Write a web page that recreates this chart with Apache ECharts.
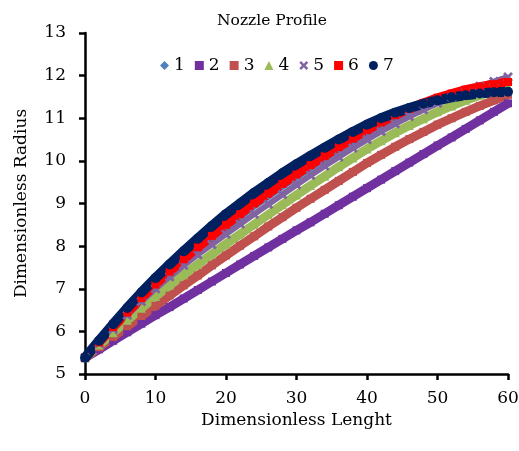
<!DOCTYPE html>
<html><head><meta charset="utf-8">
<script src="https://cdn.jsdelivr.net/npm/echarts@6/dist/echarts.min.js"></script>
<style>html,body{margin:0;padding:0;background:#fff}#c{width:519px;height:451px}</style>
</head><body><div id="c"></div>
<script>
var xValues = [0,2,4,6,8,10,12,14,16,18,20,22,24,26,28,30,32,34,36,38,40,42,44,46,48,50,52,54,56,58,60];
var seriesNames = ['1','2','3','4','5','6','7'];
var s1 = [5.38,5.73,6.08,6.42,6.75,7.07,7.37,7.66,7.94,8.21,8.47,8.72,8.97,9.20,9.43,9.65,9.87,10.08,10.29,10.49,10.69,10.87,11.04,11.19,11.33,11.45,11.55,11.64,11.71,11.77,11.82];
var s2 = [5.38,5.58,5.78,5.98,6.18,6.38,6.57,6.77,6.97,7.17,7.37,7.57,7.77,7.97,8.17,8.37,8.56,8.76,8.96,9.16,9.36,9.56,9.76,9.96,10.16,10.36,10.55,10.75,10.95,11.15,11.35];
var s3 = [5.38,5.63,5.87,6.12,6.36,6.60,6.84,7.08,7.31,7.55,7.78,8.01,8.23,8.46,8.68,8.90,9.11,9.32,9.53,9.74,9.95,10.14,10.33,10.51,10.68,10.85,11.00,11.15,11.29,11.42,11.55];
var s4 = [5.38,5.68,5.97,6.26,6.54,6.82,7.08,7.33,7.57,7.81,8.05,8.28,8.51,8.74,8.97,9.20,9.42,9.64,9.86,10.07,10.28,10.47,10.66,10.83,10.99,11.15,11.29,11.42,11.54,11.65,11.75];
var s5 = [5.38,5.72,6.05,6.38,6.70,7.00,7.28,7.55,7.80,8.04,8.28,8.52,8.75,8.98,9.21,9.44,9.66,9.88,10.09,10.30,10.50,10.69,10.87,11.04,11.20,11.35,11.49,11.62,11.75,11.86,11.97];
var s6 = [5.38,5.74,6.10,6.44,6.78,7.10,7.40,7.69,7.97,8.24,8.50,8.75,9.00,9.23,9.46,9.68,9.90,10.11,10.32,10.52,10.72,10.90,11.07,11.22,11.36,11.48,11.58,11.67,11.74,11.80,11.85];
var s7 = [5.38,5.78,6.17,6.55,6.91,7.25,7.57,7.88,8.18,8.47,8.75,9.00,9.25,9.48,9.71,9.92,10.12,10.31,10.50,10.68,10.85,11.00,11.13,11.24,11.34,11.42,11.49,11.54,11.58,11.61,11.62];
var yTicks = [5,6,7,8,9,10,11,12,13];
var xTicks = [0,10,20,30,40,50,60];

var allData = [s1,s2,s3,s4,s5,s6,s7];
var colors = ['#4F81BD','#7030A0','#C0504D','#9BBB59','#8064A2','#FF0000','#002060'];
var crossPath = 'path://M0,2L2,0L5,3L8,0L10,2L7,5L10,8L8,10L5,7L2,10L0,8L3,5Z';
var symbols = ['diamond','rect','rect','triangle',crossPath,'rect','circle'];
var symSizes = [9,8,8,9,10,8,10];
var lineWidths = [9,9,9,9,6,9,10];
var font = '"DejaVu Serif", "Liberation Serif", serif';

function pairs(arr){ return xValues.map(function(x,i){ return [x, arr[i]]; }); }

var series = seriesNames.map(function(n,i){
  return {
    name:n, type:'line', data:pairs(allData[i]),
    symbol:symbols[i], symbolSize:symSizes[i], showSymbol:true,
    itemStyle:{color:colors[i]},
    lineStyle:{color:colors[i], width:lineWidths[i]},
    smooth:false, animation:false
  };
});

var chart = echarts.init(document.getElementById('c'), null, {renderer:'canvas'});
chart.setOption({
  animation:false,
  title:{text:'Nozzle Profile', left:212, top:8, textStyle:{fontFamily:font, fontSize:15.5, fontWeight:'normal', color:'#000'}},
  legend:{
    left:155, top:52, itemWidth:9, itemHeight:9, itemGap:10,
    textStyle:{fontFamily:font, fontSize:17, color:'#000'},
    data:seriesNames.map(function(n,i){ return {name:n, icon:symbols[i]}; })
  },
  grid:{left:85, right:11, top:33, bottom:77, containLabel:false, outerBoundsMode:'none'},
  xAxis:{
    type:'value', min:0, max:60, interval:10,
    name:'Dimensionless Lenght', nameLocation:'middle', nameGap:37,
    nameTextStyle:{fontFamily:font, fontSize:17, color:'#000'},
    axisLine:{show:true, onZero:false, lineStyle:{color:'#000', width:2.5}},
    axisTick:{show:true, length:6, lineStyle:{color:'#000', width:2.5}},
    axisLabel:{fontFamily:font, fontSize:17, color:'#000', margin:16,
      formatter:function(v){ return xTicks.indexOf(v)>=0 ? String(v) : ''; }},
    splitLine:{show:false}
  },
  yAxis:{
    type:'value', min:5, max:13, interval:1,
    name:'Dimensionless Radius', nameLocation:'middle', nameGap:55,
    nameTextStyle:{fontFamily:font, fontSize:17, color:'#000'},
    axisLine:{show:true, onZero:false, lineStyle:{color:'#000', width:2.5}},
    axisTick:{show:true, length:6, lineStyle:{color:'#000', width:2.5}},
    axisLabel:{fontFamily:font, fontSize:17, color:'#000', margin:19,
      formatter:function(v){ return yTicks.indexOf(v)>=0 ? String(v) : ''; }},
    splitLine:{show:false}
  },
  series:series
});
</script>
</body></html>
